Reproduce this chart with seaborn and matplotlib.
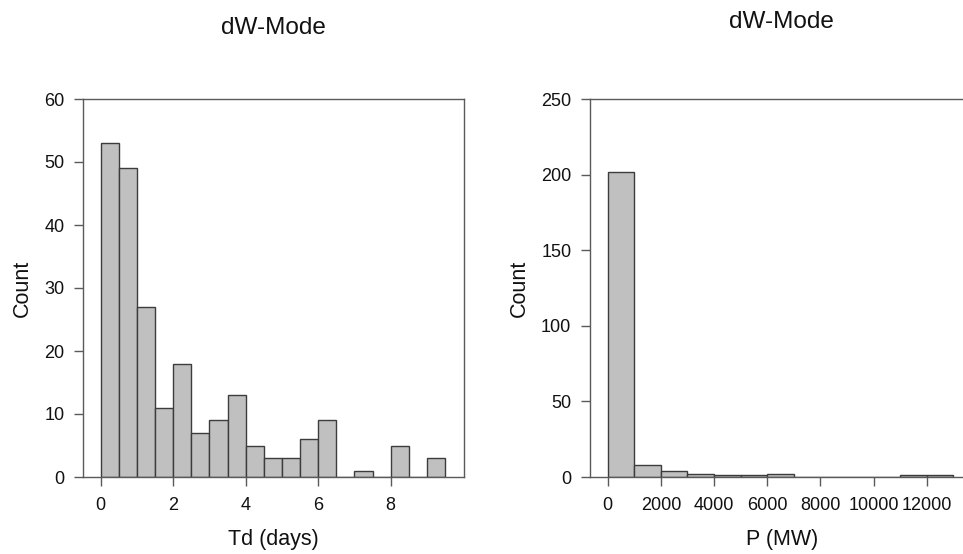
import numpy as np
import pandas as pd
import matplotlib
matplotlib.use("Agg")
import matplotlib.pyplot as plt
import seaborn as sns

# ================== DATA ==================
# left panel: Td (days), bins of 0.5 day
td_edges = [0.0, 0.5, 1.0, 1.5, 2.0, 2.5, 3.0, 3.5, 4.0, 4.5, 5.0,
            5.5, 6.0, 6.5, 7.0, 7.5, 8.0, 8.5, 9.0, 9.5]
td_counts = [53, 49, 27, 11, 18, 7, 9, 13, 5, 3, 3, 6, 9, 0, 1, 0, 5, 0, 3]

# right panel: P (MW), bins of 1000 MW
p_edges = [0, 1000, 2000, 3000, 4000, 5000, 6000, 7000, 8000,
           9000, 10000, 11000, 12000, 13000]
p_counts = [202, 8, 4, 2, 1, 1, 2, 0, 0, 0, 0, 1, 1]

title_text = "dW-Mode"

# ================== STYLE ==================
sns.set_style("ticks")
plt.rcParams['font.family'] = ['Liberation Sans', 'DejaVu Sans']

BAR = "#c0c0c0"
EDGE = "#3c3c3c"
SPINE = "#5a5a5a"
TXT = "#111111"

W, H = 963, 554
fig = plt.figure(figsize=(W / 100, H / 100), dpi=100)


def px_axes(x0, x1, ytop, ybot):
    return fig.add_axes([x0 / W, (H - ybot) / H, (x1 - x0) / W, (ybot - ytop) / H])


def style_axes(ax, ylabel_pad):
    for s in ax.spines.values():
        s.set_color(SPINE)
        s.set_linewidth(1.0)
    ax.tick_params(axis='both', direction='out', length=6.5, width=1.0,
                   color=SPINE, labelsize=13, labelcolor=TXT, pad=7)
    ax.tick_params(axis='x', pad=8)
    ax.set_ylabel("Count", fontsize=15.5, labelpad=ylabel_pad, color=TXT)


def draw_hist(ax, edges, counts):
    e = np.asarray(edges, dtype=float)
    df = pd.DataFrame({"x": (e[:-1] + e[1:]) / 2, "n": counts})
    sns.histplot(data=df, x="x", weights="n", bins=list(edges), ax=ax,
                 color=BAR, edgecolor=EDGE, linewidth=1.0, alpha=1.0)


# -------- left panel --------
ax1 = px_axes(83, 464, 99, 477)
draw_hist(ax1, td_edges, td_counts)
ax1.set_xlim(-0.485, 10.02)
ax1.set_ylim(0, 60)
ax1.set_xticks([0, 2, 4, 6, 8])
ax1.set_yticks(range(0, 61, 10))
style_axes(ax1, 8)
ax1.set_xlabel("Td (days)", fontsize=15.5, labelpad=11, color=TXT)

# -------- right panel --------
ax2 = px_axes(590, 975, 99, 477)
draw_hist(ax2, p_edges, p_counts)
ax2.set_xlim(-665, 13810)
ax2.set_ylim(0, 250)
ax2.set_xticks(range(0, 12001, 2000))
ax2.set_yticks(range(0, 251, 50))
style_axes(ax2, 8)
ax2.set_xlabel("P (MW)", fontsize=15.5, labelpad=11, color=TXT)

fig.text(273 / W, 1 - 34 / H, title_text, ha='center', va='baseline',
         fontsize=17.5, color=TXT)
fig.text(781 / W, 1 - 28 / H, title_text, ha='center', va='baseline',
         fontsize=17.5, color=TXT)

fig.savefig("out.png", dpi=100)
